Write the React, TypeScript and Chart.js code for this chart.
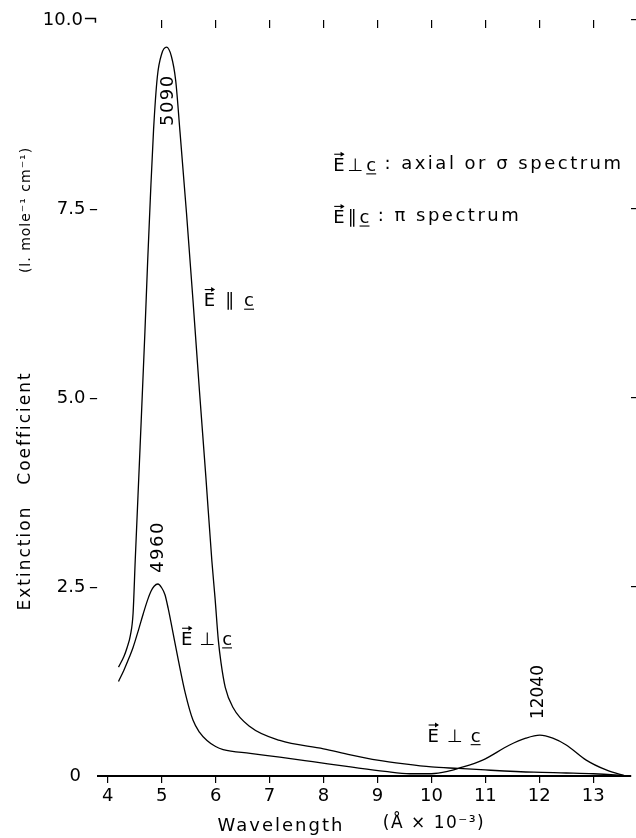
import React, { useEffect, useRef } from "react";
import { Chart, registerables } from "chart.js";

Chart.register(...registerables);

// ---------- data ----------
const xTicks = [4, 5, 6, 7, 8, 9, 10, 11, 12, 13];
const xTopTicks = [5, 6, 7, 8, 9, 10, 11, 12, 13];
const yTicks = [0, 2.5, 5, 7.5, 10];
const yTickLabels = ["0   ", "2.5\u2009\u2013", "5.0\u2009\u2013", "7.5\u2009\u2013", "10.0\u00AC"];
const yRightTicks = [2.5, 5, 7.5, 10];

// E || c : pi spectrum
const piX = [4.2, 4.3, 4.36, 4.42, 4.47, 4.51, 4.6, 4.69, 4.74, 4.79, 4.85, 4.92, 5.0, 5.09, 5.18, 5.26, 5.34, 5.46, 5.58, 5.7, 5.82, 5.93, 5.99, 6.05, 6.1, 6.18, 6.32, 6.64, 7.19, 8.0, 8.5, 9.0, 9.5, 10.0, 10.5, 11.0, 11.9, 12.5, 13.0, 13.4, 13.68];
const piY = [1.44, 1.58, 1.7, 1.86, 2.15, 2.85, 4.35, 5.88, 6.8, 7.64, 8.55, 9.25, 9.55, 9.64, 9.52, 9.2, 8.52, 7.45, 6.3, 5.1, 3.95, 2.85, 2.35, 1.8, 1.5, 1.17, 0.91, 0.65, 0.47, 0.36, 0.28, 0.21, 0.16, 0.12, 0.1, 0.08, 0.05, 0.04, 0.03, 0.015, 0.0];

// E perp c : axial / sigma spectrum
const sigmaX = [4.2, 4.3, 4.4, 4.47, 4.57, 4.66, 4.74, 4.8, 4.86, 4.93, 5.0, 5.06, 5.12, 5.19, 5.31, 5.44, 5.58, 5.7, 5.84, 6.0, 6.14, 6.64, 7.19, 7.8, 8.5, 9.14, 9.6, 10.0, 10.3, 10.5, 10.95, 11.45, 11.75, 12.01, 12.25, 12.5, 12.87, 13.24, 13.6];
const sigmaY = [1.25, 1.4, 1.57, 1.7, 1.93, 2.15, 2.33, 2.44, 2.51, 2.54, 2.49, 2.4, 2.22, 1.97, 1.53, 1.09, 0.74, 0.58, 0.47, 0.39, 0.35, 0.3, 0.25, 0.19, 0.12, 0.06, 0.03, 0.03, 0.06, 0.1, 0.21, 0.41, 0.5, 0.54, 0.5, 0.41, 0.21, 0.08, 0.0];

const peakLabels = ["5090", "4960", "12040"];
const legendLines = [" : axial or \u03C3 spectrum", " : \u03C0 spectrum"];
const xTitleParts = ["Wavelength", "(\u00C5 \u00D7 10\u207B\u00B3)"];
const yTitleParts = ["Extinction", "Coefficient", "(l. mole\u207B\u00B9 cm\u207B\u00B9)"];

// ---------- layout / style (not data) ----------
const FONT = '"DejaVu Sans", sans-serif';
const peakLabelPos = [
  { x: 5.12, y: 8.93, size: 18, sp: 1.5 },
  { x: 4.94, y: 3.02, size: 18, sp: 1.5 },
  { x: 11.99, y: 1.11, size: 17, sp: 0 },
];
const curveLabelPos = [
  { x: 5.78, y: 6.3, rel: "\u2225", sp: 10 },
  { x: 5.36, y: 1.82, rel: "\u22A5", sp: 7 },
  { x: 9.93, y: 0.54, rel: "\u22A5", sp: 8 },
];
const legendPos = [
  { x: 8.18, y: 8.09, rel: "\u22A5" },
  { x: 8.18, y: 7.4, rel: "\u2225" },
];

function drawVec(ctx: CanvasRenderingContext2D, x: number, yMid: number, rel: string, size: number, spacing: number) {
  ctx.font = `${size}px ${FONT}`;
  (ctx as any).letterSpacing = "0px";
  ctx.textAlign = "left";
  ctx.textBaseline = "alphabetic";
  const base = yMid + size * 0.36;
  const wE = ctx.measureText("E").width;
  ctx.fillText("E", x, base);
  const ay = base - size * 0.73 - 3.5;
  ctx.lineWidth = 1.1;
  ctx.beginPath();
  ctx.moveTo(x + 1, ay);
  ctx.lineTo(x + wE - 1, ay);
  ctx.stroke();
  ctx.beginPath();
  ctx.moveTo(x + wE, ay);
  ctx.lineTo(x + wE - 4, ay - 2.5);
  ctx.lineTo(x + wE - 4, ay + 2.5);
  ctx.closePath();
  ctx.fill();
  let cx = x + wE + spacing;
  const wR = ctx.measureText(rel).width;
  ctx.fillText(rel, cx, base);
  cx += wR + spacing;
  const wc = ctx.measureText("c").width;
  ctx.fillText("c", cx, base);
  ctx.beginPath();
  ctx.moveTo(cx, base + 3);
  ctx.lineTo(cx + wc, base + 3);
  ctx.stroke();
  return cx + wc - x;
}

const annotPlugin = {
  id: "annot",
  afterDraw(chart: any) {
    const ctx: CanvasRenderingContext2D = chart.ctx;
    const xs = chart.scales.x;
    const ys = chart.scales.y;
    ctx.save();
    ctx.fillStyle = "#000";
    ctx.strokeStyle = "#000";

    // rotated peak labels
    ctx.textAlign = "center";
    ctx.textBaseline = "middle";
    peakLabels.forEach((t, i) => {
      const p = peakLabelPos[i];
      const px = xs.getPixelForValue(p.x);
      const py = ys.getPixelForValue(p.y);
      ctx.font = `${p.size}px ${FONT}`;
      (ctx as any).letterSpacing = `${p.sp}px`;
      ctx.save();
      ctx.translate(px, py);
      ctx.rotate(-Math.PI / 2);
      ctx.fillText(t, p.sp / 2, 0);
      ctx.restore();
    });

    // curve labels
    curveLabelPos.forEach((p) => {
      drawVec(ctx, xs.getPixelForValue(p.x), ys.getPixelForValue(p.y), p.rel, 18, p.sp);
    });

    // legend
    legendPos.forEach((p, i) => {
      const px = xs.getPixelForValue(p.x);
      const py = ys.getPixelForValue(p.y);
      const w = drawVec(ctx, px, py, p.rel, 18, 3);
      ctx.font = `18px ${FONT}`;
      (ctx as any).letterSpacing = "2.5px";
      ctx.textAlign = "left";
      ctx.textBaseline = "middle";
      ctx.fillText(legendLines[i], px + w, py);
    });

    // x title
    ctx.font = `18px ${FONT}`;
    (ctx as any).letterSpacing = "2px";
    ctx.textAlign = "center";
    ctx.textBaseline = "middle";
    ctx.fillText(xTitleParts[0], 281, 826);
    ctx.font = `17px ${FONT}`;
    (ctx as any).letterSpacing = "1.5px";
    ctx.fillText(xTitleParts[1], 434, 824);

    // y title
    const yPos = [558, 428, 210];
    const ySizes = [17, 17, 14];
    yTitleParts.forEach((t, i) => {
      ctx.save();
      ctx.translate(26, yPos[i]);
      ctx.rotate(-Math.PI / 2);
      ctx.font = `${ySizes[i]}px ${FONT}`;
      (ctx as any).letterSpacing = i < 2 ? "2px" : "1px";
      ctx.textAlign = "center";
      ctx.textBaseline = "middle";
      ctx.fillText(t, 0, 0);
      ctx.restore();
    });

    ctx.restore();
  },
};

export default function App() {
  const canvasRef = useRef<HTMLCanvasElement>(null);

  useEffect(() => {
    if (!canvasRef.current) return;
    const lineDs = (label: string, xs: number[], ys: number[]) => ({
      label,
      data: xs.map((x, i) => ({ x, y: ys[i] })),
      borderColor: "#000",
      backgroundColor: "#000",
      borderWidth: 1.3,
      pointRadius: 0,
      fill: false,
      cubicInterpolationMode: "monotone" as const,
    });

    const chart = new Chart(canvasRef.current, {
      type: "line",
      data: {
        datasets: [
          lineDs("E \u2225 c : \u03C0 spectrum", piX, piY),
          lineDs("E \u22A5 c : axial or \u03C3 spectrum", sigmaX, sigmaY),
        ],
      },
      options: {
        animation: false,
        responsive: true,
        maintainAspectRatio: false,
        layout: { padding: 0 },
        plugins: { legend: { display: false }, tooltip: { enabled: false } },
        scales: {
          x: {
            type: "linear",
            position: "bottom",
            min: 3.82,
            max: 13.7,
            afterBuildTicks: (s: any) => {
              s.ticks = xTicks.map((v) => ({ value: v }));
            },
            afterFit: (s: any) => {
              s.height = 62;
            },
            grid: { display: true, drawOnChartArea: false, drawTicks: true, tickLength: 7, color: "#000", lineWidth: 1.2 },
            border: { display: true, color: "#000", width: 2 },
            ticks: { color: "#000", font: { family: FONT, size: 18 }, padding: 3, maxRotation: 0, autoSkip: false },
          },
          x2: {
            type: "linear",
            position: "top",
            min: 3.82,
            max: 13.7,
            afterBuildTicks: (s: any) => {
              s.ticks = xTopTicks.map((v) => ({ value: v }));
            },
            afterFit: (s: any) => {
              s.height = 20;
            },
            grid: { display: true, drawOnChartArea: false, drawTicks: true, tickLength: -8, color: "#000", lineWidth: 1.2 },
            border: { display: false },
            ticks: { display: false },
          },
          y: {
            type: "linear",
            position: "left",
            min: 0,
            max: 10,
            afterBuildTicks: (s: any) => {
              s.ticks = yTicks.map((v) => ({ value: v }));
            },
            afterFit: (s: any) => {
              s.width = 98;
            },
            grid: { display: false, drawTicks: false },
            border: { display: false },
            ticks: {
              color: "#000",
              font: { family: FONT, size: 18 },
              padding: 0,
              autoSkip: false,
              callback: (v: any) => {
                const i = yTicks.indexOf(Number(v));
                return i >= 0 ? yTickLabels[i] : "";
              },
            },
          },
          y2: {
            type: "linear",
            position: "right",
            min: 0,
            max: 10,
            afterBuildTicks: (s: any) => {
              s.ticks = yRightTicks.map((v) => ({ value: v }));
            },
            afterFit: (s: any) => {
              s.width = 5;
            },
            grid: { display: true, drawOnChartArea: false, drawTicks: true, tickLength: 5, color: "#000", lineWidth: 1.2 },
            border: { display: false },
            ticks: { display: false },
          },
        },
      },
      plugins: [annotPlugin],
    });
    return () => chart.destroy();
  }, []);

  return (
    <div style={{ position: "fixed", left: 0, top: 0, width: 636, height: 838, background: "#fff" }}>
      <canvas ref={canvasRef} />
    </div>
  );
}
